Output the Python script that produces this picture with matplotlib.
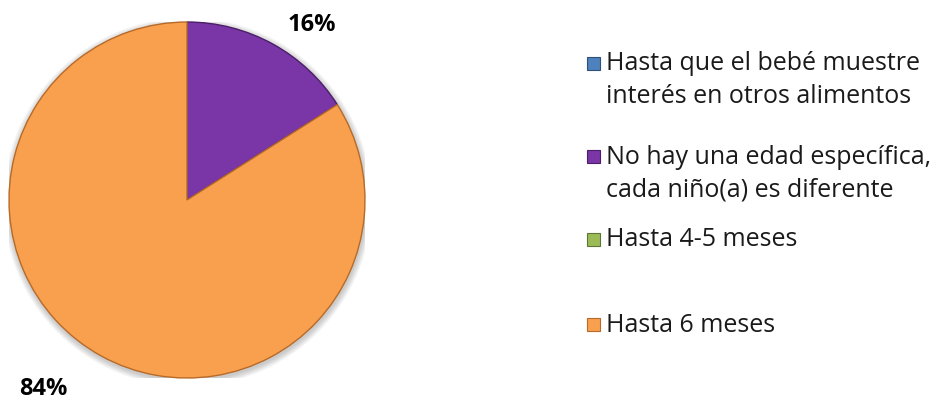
import matplotlib
matplotlib.use("Agg")
import matplotlib.pyplot as plt
from matplotlib.patches import Rectangle, Circle

plt.rcParams['font.family'] = ['Open Sans', 'DejaVu Sans']

categorias = ['Hasta que el bebé muestre\ninterés en otros alimentos',
              'No hay una edad específica,\ncada niño(a) es diferente',
              'Hasta 4-5 meses',
              'Hasta 6 meses']
porcentajes = [0, 16, 0, 84]
colores = ['#4F81BD', '#7A35A6', '#9BBB59', '#F9A04F']
bordes = ['#30507a', '#4b1f68', '#5f7535', '#b86a28']

fig = plt.figure(figsize=(9.44, 4.0), dpi=100)
ax = fig.add_axes([9 / 944, 22 / 400, 356 / 944, 356 / 400])

# sombra suave
for k in range(6):
    ax.add_patch(Circle((0.004, -0.012), 1.0 + 0.006 * (k + 1), facecolor='#000000',
                        alpha=0.035, edgecolor='none', zorder=0))

wedges, _ = ax.pie(porcentajes, colors=colores, startangle=90, counterclock=False,
                   radius=1.0, wedgeprops=dict(linewidth=1.0))
for w, b, v in zip(wedges, bordes, porcentajes):
    w.set_edgecolor(b if v > 0 else 'none')
    w.set_zorder(2)
ax.set_xlim(-1, 1)
ax.set_ylim(-1, 1)
ax.set_aspect('equal')

# etiquetas de porcentaje
pos_etiquetas = {1: (0.70, 0.985), 3: (-0.81, -1.06)}
for i, (x, y) in pos_etiquetas.items():
    ax.text(x, y, f'{porcentajes[i]}%', ha='center', va='center',
            fontsize=17, fontweight='bold', clip_on=False)

# leyenda
y_items = [80, 174, 240, 325]
for lbl, col, b, yc in zip(categorias, colores, bordes, y_items):
    nlin = lbl.count('\n') + 1
    y_first = yc - (nlin - 1) * 16.5
    fig.patches.append(Rectangle((587 / 944, 1 - (y_first + 6) / 400), 13 / 944, 13 / 400,
                                 transform=fig.transFigure, facecolor=col,
                                 edgecolor=b, linewidth=0.8))
    fig.text(606 / 944, 1 - yc / 400, lbl, ha='left', va='center',
             fontsize=18, linespacing=1.42, color='#1a1a1a')

fig.savefig('out.png', dpi=100)
